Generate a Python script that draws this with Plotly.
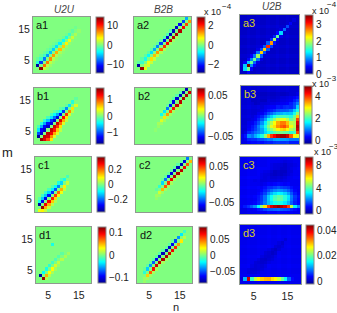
import plotly.graph_objects as go

W, H = 337, 313
N = 18
JET = [[0, '#00008f'], [.125, '#0000ff'], [.375, '#00ffff'], [.625, '#ffff00'], [.875, '#ff0000'], [1, '#800000']]

# ---- values: diagonals as {offset row-col: (first column, values)}
A1 = {1: (1, [-14, -9.5, -7.5, -6.5, -5.5, -5, -4.5, -4, -3.5, -2.8, -2, -1, -.5]),
      2: (1, [-2.5, -2, -1.8, -1.5, -1.3, -1.2, -1, -.8, -.6, -.4, -.2]),
      3: (1, [-.8, -.7, -.6, -.5, -.4, -.3, -.2]),
      -1: (2, [14, 8, 7.5, 7, 6.5, 6, 5.5, 5, 4, 3, 2, 1.2, .6]),
      -2: (3, [2.2, 2, 1.8, 1.6, 1.4, 1.2, 1, .8, .6, .4, .2]),
      -3: (4, [.8, .7, .6, .5, .4, .3, .2])}
B1 = {1: (1, [-1.6, -1.45, -1.45, -1.45, -1.4, -1.4, -1.35, -1.25, -1.1, -.8, -.5, -.3, -.1]),
      2: (1, [-1, -1.25, -1.25, -1.2, -1.1, -.9, -.7, -.4, -.2, -.1]),
      3: (1, [-.5, -.7, -.7, -.6, -.5, -.4, -.2, -.1]),
      4: (1, [-.2, -.3, -.3, -.2, -.2, -.1]),
      -1: (2, [1.6, 1.45, 1.45, 1.45, 1.4, 1.4, 1.35, 1.25, 1.1, .8, .5, .3]),
      -2: (3, [1.35, 1.35, 1.3, 1.2, 1.1, .9, .7, .5, .3, .2]),
      -3: (4, [1, .8, .7, .6, .5, .3, .2]),
      -4: (5, [.5, .3, .3, .2])}
C1 = {1: (1, [-.35, -.29, -.29, -.27, -.25, -.22, -.18, -.12, -.08, -.04]),
      2: (1, [-.08, -.13, -.13, -.12, -.1, -.09, -.07, -.04]),
      3: (1, [-.03, -.05, -.05, -.04, -.03]),
      -1: (1, [.08, .35, .29, .28, .26, .24, .2, .15, .1, .05]),
      -2: (2, [.1, .15, .15, .13, .12, .1, .08, .05]),
      -3: (3, [.05, .05, .04, .03])}
D1 = {1: (1, [-.115, -.03, -.025, -.02, -.015, -.012, -.01, -.008]),
      7: (5, [-.025]),
      -1: (2, [.115, .05, .03, .03, .02, .015, .012, .01, .008]),
      -2: (3, [.012, .012, .01, .008, .006])}
A2 = {1: (1, [-2.75, -.4, -.6, -.7, -.9, -1.2, -1.4, -1.8, -2.2, -2.5, -2.6, -2.6, -2.5, -2.2, -1.8, -1.2, -.6]),
      2: (1, [-.2, -.2, -.2, -.2, -.2, -.2, -.2, -.2, -.3, -.3, -.3]),
      -1: (2, [2.75, .4, .6, .9, 1.1, 1.3, 1.6, 1.9, 2.2, 2.5, 2.6, 2.65, 2.6, 2.2, 1.8, 1.3, .6]),
      -2: (3, [.6, .5, .4, .4, .4, .3, .3, .2, .2, .2, .2])}
B2 = {1: (8, [-.015, -.02, -.035, -.05, -.055, -.058, -.06, -.062, -.062]),
      2: (10, [-.004, -.005, -.006, -.006, -.006]),
      -1: (7, [.005, .012, .02, .03, .04, .05, .058, .06, .062, .062, .058]),
      -2: (6, [.002, .003, .004, .005, .005, .005, .005, .006, .006])}
C2 = {1: (6, [-.005, -.012, -.025, -.04, -.055, -.063, -.068, -.07, -.07, -.063, -.04]),
      2: (8, [-.004, -.005, -.005, -.006, -.006, -.006, -.005]),
      -1: (6, [.005, .012, .03, .045, .05, .06, .068, .07, .068, .06, .045, .03]),
      -2: (6, [.003, .004, .005, .005, .005, .006, .006, .006, .005])}
D2 = {1: (2, [-.015, -.03, -.04, -.05, -.068, -.075, -.079, -.079, -.075, -.068, -.055, -.04, -.025, -.012]),
      2: (2, [-.004, -.006, -.006, -.007, -.007, -.007, -.007, -.006, -.006, -.005]),
      -1: (2, [.005, .03, .05, .065, .073, .078, .08, .08, .075, .068, .06, .04, .025, .01]),
      -2: (2, [.004, .006, .006, .007, .007, .007, .007, .006, .006, .005])}
A3 = {0: (1, [1.0, 3.4, 1.5, 1.5, 1.6, 2.2, 2.2, 2.7, 2.4, 1.7, 1.4, 1.0, .6, .4, .2, .1]),
      1: (1, [.9, .9, .7, .6, .6, .5, .5, .5, .4, .3, .2, .1]),
      -1: (2, [1.5, .7, .6, .6, .5, .5, .5, .4, .3, .2, .1]),
      2: (1, [.2, .2, .2, .1, .1, .1]),
      -2: (2, [.2, .2, .2, .1, .1])}
B3_ROWS = [
    [.2, .2, .3, .4, .4, .4, .4, .5, .5, .5, .6, .6, .6, .6, .6, .5, .5, .5],
    [.2, .3, .5, .6, .6, .7, .8, .9, 1.0, 1.0, 1.2, 1.2, 1.2, 1.2, 1.1, 1.0, 1.0, 1.0],
    [.2, .4, 1.0, .9, 1.2, 1.4, 1.8, 2.4, 3.3, 4.0, 4.3, 4.6, 4.8, 4.8, 4.5, 3.8, 3.0, 2.8],
    [.1, .2, .5, .7, .9, 1.0, 1.2, 1.5, 1.7, 1.9, 2.1, 2.2, 2.3, 2.2, 2.1, 1.9, 2.0, 4.0],
    [.1, .1, .3, .5, .7, .9, 1.2, 1.6, 2.1, 2.4, 2.7, 3.0, 3.2, 3.3, 3.0, 2.6, 2.4, 4.6],
    [.1, .1, .2, .4, .6, .9, 1.3, 1.8, 2.3, 2.8, 3.1, 3.5, 3.8, 3.9, 3.5, 2.9, 2.6, 4.7],
    [.1, .1, .2, .3, .5, .7, 1.1, 1.6, 2.1, 2.6, 3.0, 3.4, 3.7, 3.7, 3.3, 2.7, 2.6, 4.5],
    [.1, .1, .1, .2, .3, .5, .8, 1.2, 1.7, 2.0, 2.4, 2.7, 2.9, 2.9, 2.6, 2.2, 2.4, 4.0],
    [.1, .1, .1, .1, .2, .3, .5, .8, 1.1, 1.4, 1.7, 1.9, 2.0, 2.0, 1.9, 1.8, 2.2, 3.2],
    [.1, .1, .1, .1, .1, .2, .3, .5, .7, .9, 1.1, 1.2, 1.3, 1.4, 1.3, 1.4, 1.8, 2.4],
    [.1, .1, .1, .1, .1, .1, .2, .3, .4, .5, .6, .7, .8, .8, .8, 1.0, 1.4, 1.8],
    [.1, .1, .1, .1, .1, .1, .1, .2, .2, .3, .3, .4, .4, .5, .5, .5, .7, 1.4],
    [.1, .1, .1, .1, 0, 0, .1, .1, .1, .2, .2, .2, .3, .3, .3, .5, .7, 1.0],
    [.1, .1, .1, 0, 0, 0, 0, 0, .1, .1, .1, .1, .2, .2, .2, .3, .5, .7],
    [.1, .1, .1, .1, 0, 0, 0, 0, 0, 0, 0, 0, .1, .1, .1, .2, .3, .4],
    [.1, .1, .1, .1, .1, 0, 0, 0, 0, 0, 0, 0, 0, 0, 0, .1, .1, .2],
    [.1, .1, .1, .1, .1, .1, .1, .1, .1, .1, .1, .1, .1, .1, .1, .1, .1, .1],
    [.1, .1, .1, .1, .1, .1, .1, .1, .1, .1, .1, .1, .1, .1, .1, .1, .1, .1]]
C3_ROWS = [
    [.4, .4, .4, .5, .5, .5, .6, .6, .7, .7, .7, .7, .7, .7, .6, .6, .5, .5],
    [.4, .4, .5, .5, .6, .8, 1.0, 1.3, 1.5, 1.6, 1.7, 1.7, 1.6, 1.5, 1.3, 1.0, .8, .6],
    [.5, .8, 1.0, 1.5, 2.0, 3.0, 4.5, 6.0, 7.5, 8.6, 9.0, 9.2, 9.0, 8.6, 7.5, 5.0, 3.0, 2.0],
    [.5, .5, .5, .6, .7, .9, 1.3, 1.9, 2.5, 3.0, 3.4, 3.5, 3.4, 3.0, 2.4, 1.6, 1.0, .7],
    [.5, .5, .5, .5, .6, .8, 1.2, 1.8, 2.6, 3.3, 4.0, 4.2, 4.1, 3.6, 2.8, 1.8, 1.1, .7],
    [.5, .5, .5, .5, .6, .7, 1.1, 1.7, 2.5, 3.2, 3.8, 4.0, 4.0, 3.5, 2.8, 1.8, 1.1, .7],
    [.5, .5, .5, .5, .5, .6, .9, 1.3, 1.9, 2.5, 2.9, 3.1, 3.1, 2.8, 2.2, 1.5, .9, .6],
    [.5, .5, .5, .5, .5, .5, .7, 1.0, 1.3, 1.7, 2.0, 2.1, 2.1, 1.9, 1.5, 1.1, .7, .5],
    [.5, .5, .5, .5, .5, .5, .5, .7, .9, 1.0, 1.2, 1.3, 1.2, 1.1, .9, .7, .5, .5],
    [.5, .5, .5, .5, .5, .4, .4, .5, .6, .6, .7, .7, .7, .6, .6, .5, .5, .5],
    [.5, .5, .5, .5, .4, .4, .3, .3, .3, .3, .3, .3, .3, .4, .4, .5, .5, .5],
    [.5, .5, .5, .5, .5, .4, .3, .2, .2, .1, .1, .1, .1, .2, .3, .4, .5, .5],
    [.5, .5, .5, .5, .5, .5, .4, .3, .2, .1, 0, 0, 0, .1, .2, .4, .5, .5],
    [.5, .5, .5, .5, .5, .5, .5, .4, .3, .2, 0, 0, 0, 0, .2, .3, .5, .5],
    [.5, .5, .5, .5, .5, .5, .5, .5, .4, .3, .2, .1, 0, 0, .1, .3, .4, .5],
    [.5, .5, .5, .5, .5, .5, .5, .5, .5, .4, .3, .2, .2, .1, .2, .3, .4, .5],
    [.5, .5, .5, .5, .5, .5, .5, .5, .5, .5, .5, .4, .4, .3, .3, .4, .5, .5],
    [.5, .5, .5, .5, .5, .5, .5, .5, .5, .5, .5, .5, .5, .5, .5, .5, .5, .5]]
D3_LINE = [.002, .012, .04, .018, .024, .027, .029, .03, .03, .028, .027, .024, .02, .015, .008, .004, .003, .003]
D3_BASE = .0028
D3_DARK = {0: (3, [-.001, -.0012, -.0014, -.0016, -.0018, -.002, -.002, -.002, -.0018, -.0014, -.001]),
           1: (2, [-.001, -.0012, -.0014, -.0015, -.0016, -.0016, -.0016, -.0014, -.0012, -.001]),
           -1: (4, [-.001, -.0012, -.0014, -.0014, -.0015, -.0015, -.0014, -.0012, -.001]),
           2: (2, [-.0008, -.0008, -.001, -.001, -.001, -.001, -.0008]),
           -2: (5, [-.0006, -.0008, -.0008, -.0008, -.0008, -.0006])}
GRID_MASK = [0, 0, 1, 0, 0, 1, 0, 0, 1, 0, 0, 1, 0, 0, 1, 0, 0, 0]


def from_diags(base, diags):
    z = [[base] * N for _ in range(N)]
    for off, (first, vals) in diags.items():
        for k, v in enumerate(vals):
            c, r = first + k, first + k + off
            if 0 <= r < N and 0 <= c < N:
                z[r][c] = z[r][c] + v
    return z


def with_grid(z, amp):
    return [[z[r][c] + amp * (GRID_MASK[r] + GRID_MASK[c]) for c in range(N)] for r in range(N)]


d3 = from_diags(D3_BASE, D3_DARK)
d3[1] = D3_LINE[:]

Z = {
    'a1': from_diags(0, A1), 'a2': from_diags(0, A2), 'a3': with_grid(from_diags(.22, A3), .04),
    'b1': from_diags(0, B1), 'b2': from_diags(0, B2), 'b3': with_grid(B3_ROWS, .05),
    'c1': from_diags(0, C1), 'c2': from_diags(0, C2), 'c3': with_grid(C3_ROWS, .09),
    'd1': from_diags(0, D1), 'd2': from_diags(0, D2), 'd3': with_grid(d3, .0003),
}
LIMS = {'a1': (-14.7, 14.7), 'a2': (-2.9, 2.9), 'a3': (0, 3.6),
        'b1': (-1.67, 1.67), 'b2': (-.068, .068), 'b3': (-.3, 5),
        'c1': (-.37, .37), 'c2': (-.077, .077), 'c3': (-.6, 9.6),
        'd1': (-.122, .122), 'd2': (-.0875, .0875), 'd3': (-.002, .044)}
TICKS = {'a1': ([-10, 0, 10], ['−10', '0', '10']), 'a2': ([-2, 0, 2], ['−2', '0', '2']),
         'a3': ([0, 1, 2, 3], ['0', '1', '2', '3']),
         'b1': ([-1, 0, 1], ['−1', '0', '1']), 'b2': ([-.05, 0, .05], ['−0.05', '0', '0.05']),
         'b3': ([0, 2, 4], ['0', '2', '4']),
         'c1': ([-.2, 0, .2], ['−0.2', '0', '0.2']), 'c2': ([-.05, 0, .05], ['−0.05', '0', '0.05']),
         'c3': ([0, 4, 8], ['0', '4', '8']),
         'd1': ([-.1, 0, .1], ['−0.1', '0', '0.1']), 'd2': ([-.05, 0, .05], ['−0.05', '0', '0.05']),
         'd3': ([0, .02, .04], ['0', '0.02', '0.04'])}
# pixel boxes: panel x0,x1,y0,y1 ; colorbar x0
BOX = {'a1': (33, 90, 17, 73, 96), 'a2': (134, 191, 17, 73, 197), 'a3': (240, 299, 15, 74, 305),
       'b1': (34, 90, 88, 144, 96), 'b2': (135, 191, 88, 144, 197), 'b3': (241, 299, 86, 144, 304),
       'c1': (35, 91, 157, 212, 97), 'c2': (136, 192, 157, 212, 198), 'c3': (240, 300, 157, 214, 305),
       'd1': (36, 91, 227, 283, 98), 'd2': (137, 192, 227, 283, 199), 'd3': (240, 301, 225, 284, 306)}
TXT = '#222222'
FONT = 'Liberation Sans'

fig = go.Figure()
ann = []
for i, key in enumerate(BOX):
    x0, x1, y0, y1, cx = BOX[key]
    s = '' if i == 0 else str(i + 1)
    tv, tt = TICKS[key]
    fig.add_trace(go.Heatmap(
        z=Z[key], x0=1.5, dx=1, y0=1.5, dy=1, xaxis='x' + s, yaxis='y' + s,
        zmin=LIMS[key][0], zmax=LIMS[key][1], colorscale=JET, hoverinfo='skip',
        colorbar=dict(x=cx / W, xanchor='left', xpad=0, ypad=0, thickness=8, thicknessmode='pixels',
                      len=(y1 - y0) / H, lenmode='fraction', y=1 - (y0 + y1) / 2 / H, yanchor='middle',
                      tickvals=tv, ticktext=tt, ticks='', ticklen=0,
                      tickfont=dict(family=FONT, size=10, color=TXT),
                      outlinecolor='#8a8a8a', outlinewidth=1, borderwidth=0)))
    fig.update_layout(**{
        'xaxis' + s: dict(domain=[x0 / W, x1 / W], range=[1, 19], anchor='y' + s, showgrid=False, zeroline=False,
                          showline=True, mirror=True, linecolor='#8f9a8f', linewidth=1,
                          tickvals=[5, 15] if key[0] == 'd' else [], ticks='outside', ticklen=2,
                          tickcolor='rgba(0,0,0,0)', tickfont=dict(family=FONT, size=10.5, color=TXT)),
        'yaxis' + s: dict(domain=[1 - y1 / H, 1 - y0 / H], range=[1, 19], anchor='x' + s, showgrid=False, zeroline=False,
                          showline=True, mirror=True, linecolor='#8f9a8f', linewidth=1,
                          tickvals=[5, 15] if key[1] == '1' else [], ticks='', ticklen=0,
                          tickfont=dict(family=FONT, size=10.5, color=TXT)),
    })
    ann.append(dict(x=(x0 + 2) / W, y=1 - (y0 + 1) / H, text=key, xanchor='left', yanchor='top',
                    font=dict(family=FONT, size=11, color='#d8d020' if key[1] == '3' else '#111111')))


def label(px, py, text, size=11, italic=False, color=TXT):
    ann.append(dict(x=px / W, y=1 - py / H, text=('<i>%s</i>' % text) if italic else text, xanchor='center',
                    yanchor='middle', font=dict(family=FONT, size=size, color=color)))


label(64, 9, 'U2U', 10, True, '#444444')
label(163, 9, 'B2B', 10, True, '#444444')
label(272, 7, 'U2B', 10, True, '#444444')
label(7, 152, 'm', 13)
label(176, 306.5, 'n', 11)
for cx_, cy_, sx_, sy_, e_ in [(213, 12, 227, 6, '−4'), (320, 11, 332, 5, '−4'), (320, 84, 332, 78, '−3'), (322, 152, 334, 146, '−3')]:
    label(cx_, cy_, 'x 10', 9)
    label(sx_, sy_, e_, 8)

fig.update_layout(width=W, height=H, margin=dict(l=0, r=0, t=0, b=0), paper_bgcolor='white', plot_bgcolor='white',
                  annotations=[dict(a, xref='paper', yref='paper', showarrow=False, borderpad=0) for a in ann],
                  showlegend=False)
fig.write_html("out.html", config={'displayModeBar': False},
               post_script="document.body.style.margin='0';document.documentElement.style.overflow='hidden';")
